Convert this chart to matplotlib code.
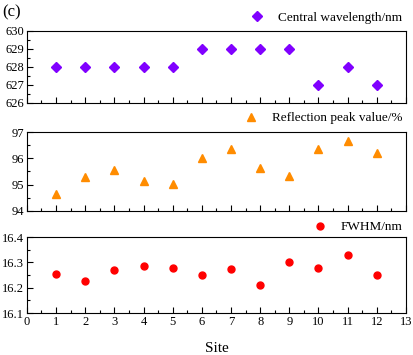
import matplotlib
matplotlib.use("Agg")
import matplotlib.pyplot as plt
from matplotlib.ticker import MultipleLocator

plt.rcParams['font.family'] = ['Liberation Serif', 'DejaVu Serif']

sites = [1, 2, 3, 4, 5, 6, 7, 8, 9, 10, 11, 12]
central_wl = [628, 628, 628, 628, 628, 629, 629, 629, 629, 627, 628, 627]
reflection = [94.66, 95.28, 95.56, 95.12, 95.04, 96.0, 96.34, 95.62, 95.33, 96.37, 96.67, 96.22]
fwhm = [16.254, 16.226, 16.272, 16.285, 16.279, 16.251, 16.274, 16.211, 16.301, 16.280, 16.330, 16.250]

labels = ["Central wavelength/nm", "Reflection peak value/%", "FWHM/nm"]
colors = ["#8000FF", "#FF8C00", "#FF0000"]
markers = ["D", "^", "o"]
msizes = [4.6, 5.2, 5.0]
ylims = [(626, 630), (94, 97), (16.1, 16.4)]
ymajor = [1, 1, 0.1]
yfmt = ["{:.0f}", "{:.0f}", "{:.1f}"]
series = [central_wl, reflection, fwhm]
leg_y = [1.04, 1.05, 1.0]

fig = plt.figure(figsize=(4.13, 3.55), dpi=100)
left, right = 0.065, 0.983
boxes = [(0.710, 0.913), (0.406, 0.628), (0.118, 0.332)]

for i, (b, t) in enumerate(boxes):
    ax = fig.add_axes([left, b, right - left, t - b])
    ax.plot(sites, series[i], linestyle='none', marker=markers[i], color=colors[i],
            markersize=msizes[i], label=labels[i])
    ax.set_xlim(0, 13)
    ax.set_ylim(*ylims[i])
    ax.xaxis.set_major_locator(MultipleLocator(1))
    ax.xaxis.set_minor_locator(MultipleLocator(0.5))
    ax.yaxis.set_major_locator(MultipleLocator(ymajor[i]))
    ax.yaxis.set_minor_locator(MultipleLocator(ymajor[i] / 2))
    ax.tick_params(which='both', direction='in', top=False, right=False, labelsize=9, pad=2)
    ax.tick_params(which='major', length=4, width=0.8)
    ax.tick_params(which='minor', length=2, width=0.8)
    ax.set_yticks(ax.get_yticks())
    ax.set_yticklabels([yfmt[i].format(v) for v in ax.get_yticks()])
    ax.set_ylim(*ylims[i])
    for s in ax.spines.values():
        s.set_linewidth(0.8)
    if i < 2:
        ax.tick_params(labelbottom=False)
    else:
        ax.set_xlabel("Site", fontsize=11, labelpad=10)
    ax.legend(loc='lower right', bbox_to_anchor=(1.0, leg_y[i]), frameon=False,
              fontsize=9.5, handletextpad=0.8, borderpad=0.1, borderaxespad=0.2,
              handlelength=1.5)

fig.text(0.005, 0.965, "(c)", fontsize=12, va='center', ha='left')
fig.savefig("out.png", dpi=100)
